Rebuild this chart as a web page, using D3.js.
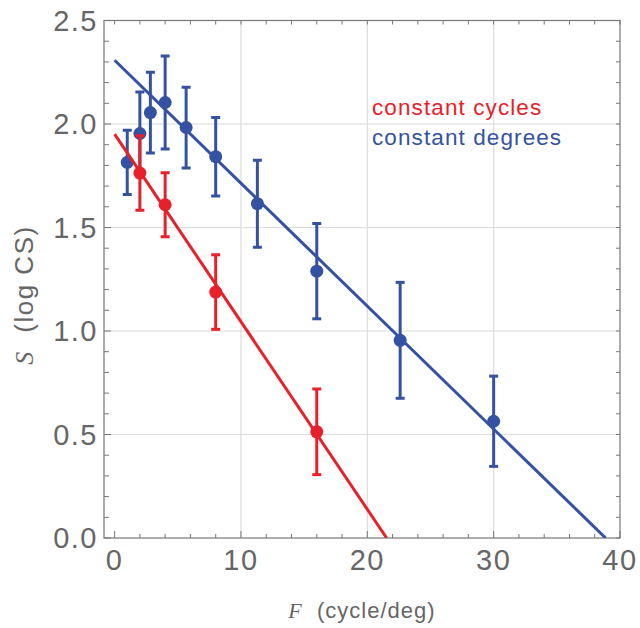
<!DOCTYPE html>
<html><head><meta charset="utf-8">
<script src="https://cdn.jsdelivr.net/npm/d3@7"></script>
<style>body{margin:0;background:#fff}</style></head>
<body><svg id="c" width="640" height="628"></svg>
<script>
const freqCycles = [2, 4, 8, 16];
const sCycles = [1.763, 1.61, 1.188, 0.513];
const errCycles = [0.18, 0.155, 0.18, 0.207];
const freqDegrees = [1, 2, 2.83, 4, 5.66, 8, 11.3, 16, 22.6, 30];
const sDegrees = [1.815, 1.954, 2.055, 2.104, 1.983, 1.842, 1.615, 1.289, 0.955, 0.564];
const errDegrees = [0.155, 0.2, 0.195, 0.225, 0.195, 0.19, 0.21, 0.23, 0.28, 0.218];
const fitCycles = [[0, 1.951], [21.53, 0]];
const fitDegrees = [[0, 2.308], [38.86, 0]];
const xTicks = [0, 10, 20, 30, 40];
const xTickLabels = ["0", "10", "20", "30", "40"];
const yTicks = [0, 0.5, 1, 1.5, 2, 2.5];
const yTickLabels = ["0.0", "0.5", "1.0", "1.5", "2.0", "2.5"];
const legendLabels = ["constant cycles", "constant degrees"];

const RED = "#e8202a", BLUE = "#3552a2";
const L = 104, R = 620, T = 20.5, B = 538;
const x = d3.scaleLinear([-0.84, 40], [L, R]);
const y = d3.scaleLinear([0, 2.5], [B, T]);
const svg = d3.select("#c");
const font = "'Liberation Sans', Arial, Helvetica, sans-serif";

svg.append("defs").append("clipPath").attr("id", "clip")
  .append("rect").attr("x", L).attr("y", T).attr("width", R - L).attr("height", B - T);

// grid
const grid = svg.append("g").attr("stroke", "#dcdcdc").attr("stroke-width", 1.2);
xTicks.filter(t => t > 0 && t < 40).forEach(t =>
  grid.append("line").attr("x1", x(t)).attr("x2", x(t)).attr("y1", T).attr("y2", B));
yTicks.filter(t => t > 0 && t < 2.5).forEach(t =>
  grid.append("line").attr("x1", L).attr("x2", R).attr("y1", y(t)).attr("y2", y(t)));

// ticks
const tk = svg.append("g").attr("stroke", "#777").attr("stroke-width", 1);
d3.range(0, 40.01, 2).forEach(t => {
  const major = Math.abs(t % 10) < 1e-6;
  tk.append("line").attr("x1", x(t)).attr("x2", x(t)).attr("y1", B).attr("y2", B - (major ? 7 : 4));
  tk.append("line").attr("x1", x(t)).attr("x2", x(t)).attr("y1", T).attr("y2", T + 4);
});
d3.range(0, 2.501, 0.1).forEach(t => {
  const major = Math.abs((t * 10) % 5) < 1e-6;
  tk.append("line").attr("x1", L).attr("x2", L + (major ? 7 : 5)).attr("y1", y(t)).attr("y2", y(t));
  tk.append("line").attr("x1", R).attr("x2", R - 4).attr("y1", y(t)).attr("y2", y(t));
});
svg.append("rect").attr("x", L).attr("y", T).attr("width", R - L).attr("height", B - T)
  .attr("fill", "none").attr("stroke", "#777").attr("stroke-width", 1.2);

// tick labels
svg.append("g").selectAll("text").data(xTicks).join("text")
  .attr("x", d => x(d)).attr("y", 570).attr("text-anchor", "middle")
  .attr("font-family", font).attr("font-size", 29).attr("letter-spacing", 1.5).attr("fill", "#666")
  .text((d, i) => xTickLabels[i]);
svg.append("g").selectAll("text").data(yTicks).join("text")
  .attr("x", 98).attr("y", d => y(d) + 10).attr("text-anchor", "end")
  .attr("font-family", font).attr("font-size", 29).attr("letter-spacing", 1.5).attr("fill", "#666")
  .text((d, i) => yTickLabels[i]);

// axis labels
const xl = svg.append("text").attr("x", 362).attr("y", 618).attr("text-anchor", "middle")
  .attr("font-family", font).attr("font-size", 22).attr("letter-spacing", 1).attr("fill", "#666");
xl.append("tspan").attr("font-family", "'Liberation Serif', 'Times New Roman', serif").attr("font-style", "italic").text("F");
xl.append("tspan").text("\u00a0\u00a0(cycle/deg)");
const yl = svg.append("text").attr("transform", "translate(33,295) rotate(-90)").attr("text-anchor", "middle")
  .attr("font-family", font).attr("font-size", 26).attr("letter-spacing", 1.5).attr("fill", "#666");
yl.append("tspan").attr("font-family", "'Liberation Serif', 'Times New Roman', serif").attr("font-style", "italic").text("S");
yl.append("tspan").text("\u00a0\u00a0(log CS)");

// series
const line = d3.line().x(d => x(d[0])).y(d => y(d[1]));
const plot = svg.append("g").attr("clip-path", "url(#clip)");
function series(fx, sy, err, fit, color) {
  plot.append("path").attr("d", line(fit)).attr("fill", "none").attr("stroke", color).attr("stroke-width", 3);
  const g = plot.append("g").attr("stroke", color).attr("stroke-width", 3);
  fx.forEach((f, i) => {
    const cx = x(f), y1 = y(sy[i] + err[i]), y0 = y(sy[i] - err[i]);
    g.append("line").attr("x1", cx).attr("x2", cx).attr("y1", y1).attr("y2", y0);
    g.append("line").attr("x1", cx - 4.5).attr("x2", cx + 4.5).attr("y1", y1).attr("y2", y1);
    g.append("line").attr("x1", cx - 4.5).attr("x2", cx + 4.5).attr("y1", y0).attr("y2", y0);
  });
  plot.append("g").selectAll("circle").data(fx).join("circle")
    .attr("cx", d => x(d)).attr("cy", (d, i) => y(sy[i])).attr("r", 6.5).attr("fill", color);
}
series(freqDegrees, sDegrees, errDegrees, fitDegrees, BLUE);
series(freqCycles, sCycles, errCycles, fitCycles, RED);

// legend
svg.append("text").attr("x", 372).attr("y", 115).attr("font-family", font).attr("font-size", 22.5)
  .attr("letter-spacing", 1.1).attr("fill", RED).text(legendLabels[0]);
svg.append("text").attr("x", 372).attr("y", 145).attr("font-family", font).attr("font-size", 22.5)
  .attr("letter-spacing", 1.1).attr("fill", BLUE).text(legendLabels[1]);
</script></body></html>
